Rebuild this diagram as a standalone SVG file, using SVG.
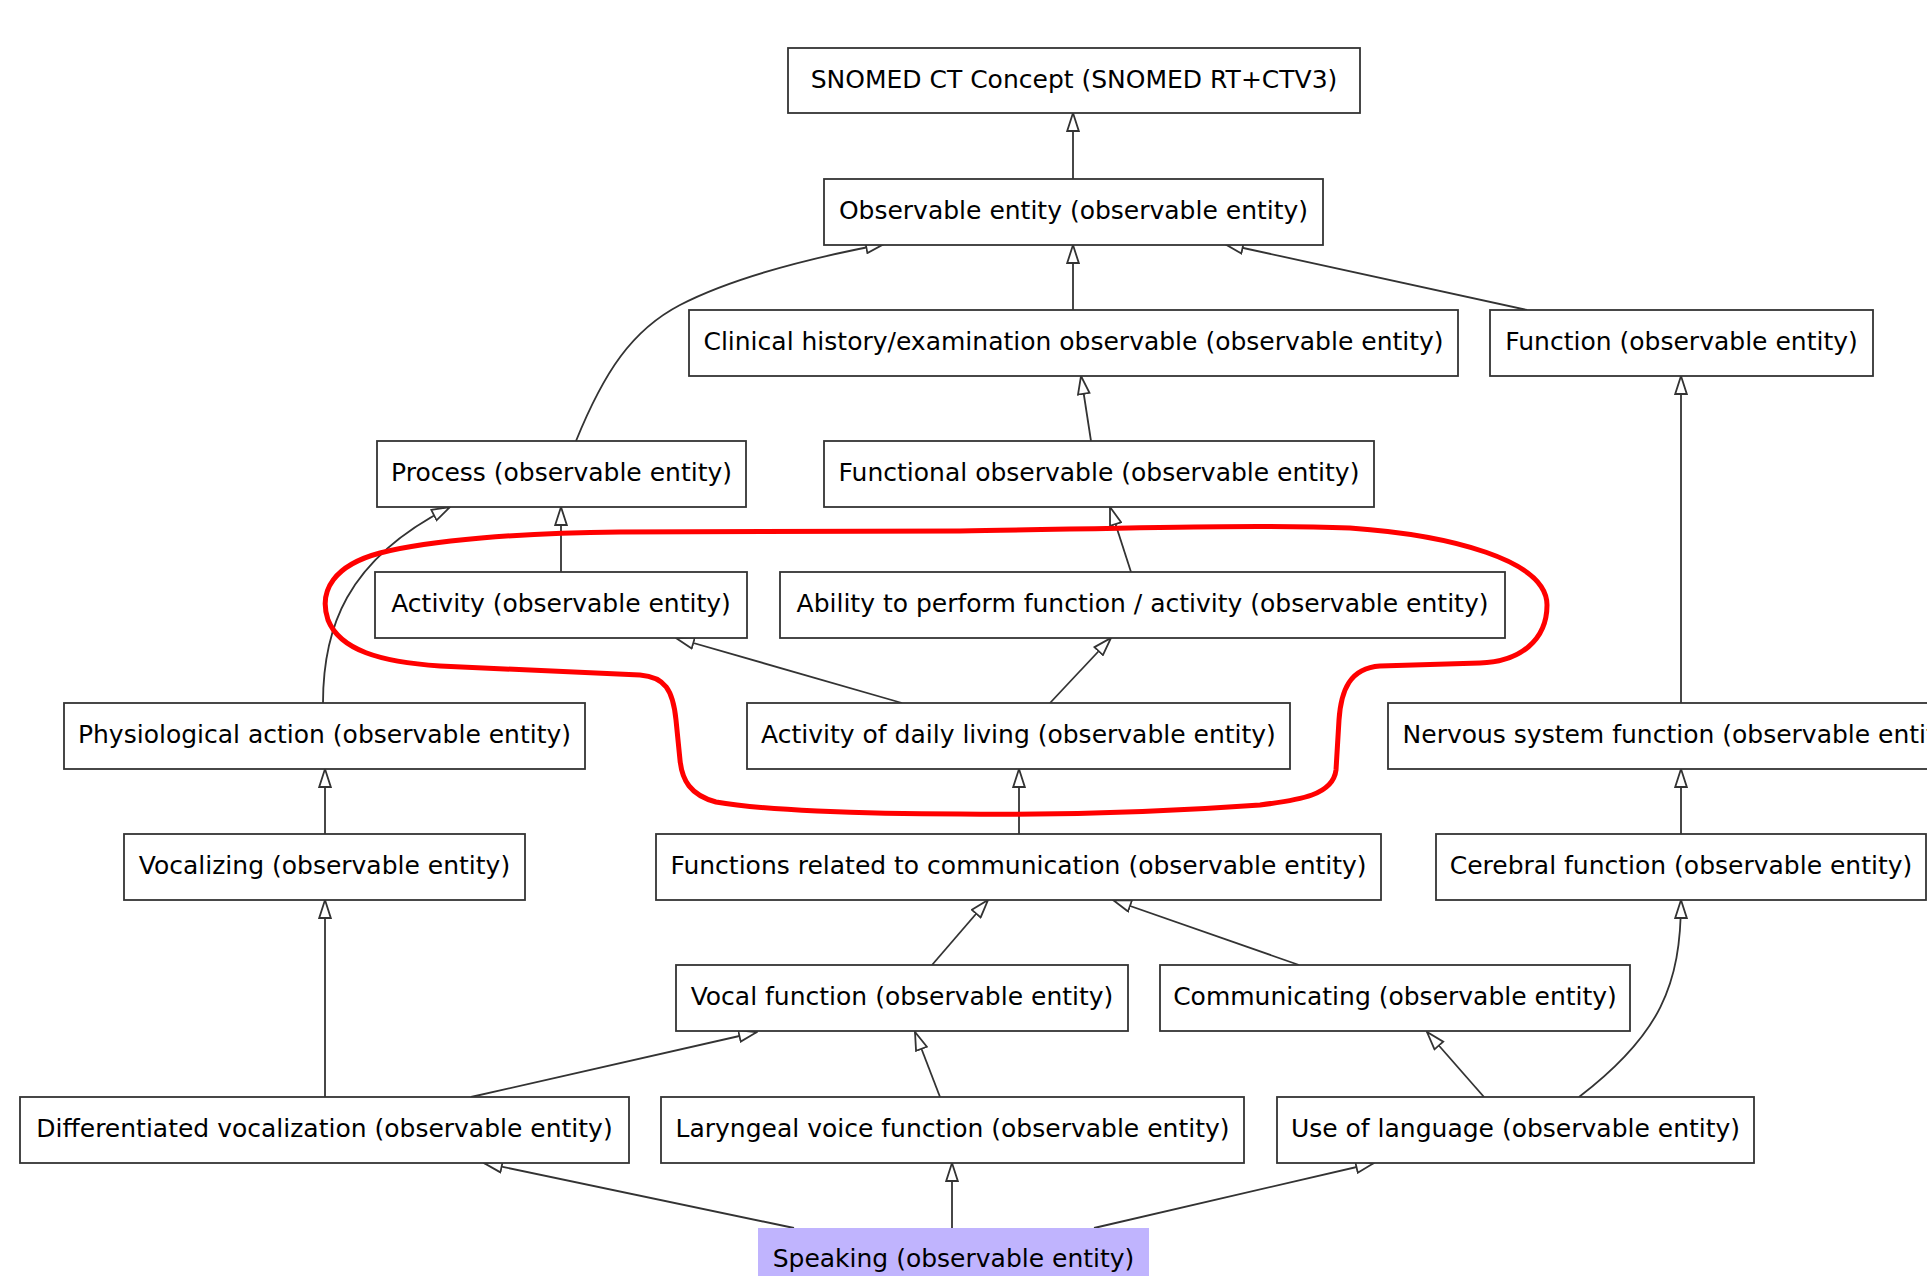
<svg xmlns="http://www.w3.org/2000/svg" width="1927" height="1276" viewBox="0 0 1927 1276">
<style>
.n rect{fill:#fff;stroke:#333;stroke-width:1.8}
.n text{font-family:"DejaVu Sans",sans-serif;font-size:25px;fill:#000;text-anchor:middle}
#speaking rect{fill:#c0b4fe;stroke:none}
.e path{fill:none;stroke:#333;stroke-width:1.8;marker-end:url(#a)}
.loop{fill:none;stroke:#f00;stroke-width:5;stroke-linejoin:round}
</style>
<defs>
<marker id="a" viewBox="0 0 20 14" refX="19" refY="7" markerWidth="20" markerHeight="14" orient="auto" markerUnits="userSpaceOnUse">
<path d="M1,1.2 L19,7 L1,12.8 Z" fill="#fff" stroke="#333" stroke-width="1.8"/>
</marker>
</defs>
<rect width="1927" height="1276" fill="#fff"/>
<g class="e" id="edges">
<path d="M1073,179 L1073,113"/>
<path d="M1073,310 L1073,245"/>
<path d="M1527,310 L1225,244"/>
<path d="M576,441 C604,372 632,330 680,305 C730,279 800,260 884,244"/>
<path d="M1091,441 L1081,376"/>
<path d="M561,572 L561,507"/>
<path d="M1131,572 L1110,507"/>
<path d="M323,703 C323,630 345,560 450,507"/>
<path d="M902,703 L676,638"/>
<path d="M1050,703 L1111,638"/>
<path d="M1019,834 L1019,769"/>
<path d="M1681,703 L1681,376"/>
<path d="M1681,834 L1681,769"/>
<path d="M325,834 L325,769"/>
<path d="M932,965 L988,900"/>
<path d="M1299,965 L1113,900"/>
<path d="M325,1097 L325,900"/>
<path d="M471,1097 L757,1032"/>
<path d="M940,1097 L915,1032"/>
<path d="M1484,1097 L1427,1032"/>
<path d="M1579,1097 C1660,1035 1681,985 1681,900"/>
<path d="M794,1228 L484,1163"/>
<path d="M952,1228 L952,1163"/>
<path d="M1094,1228 L1374,1163"/>
</g>
<g class="n" id="snomed"><rect x="788" y="48" width="572" height="65"/><text x="1074" y="88">SNOMED CT Concept (SNOMED RT+CTV3)</text></g>
<g class="n" id="observable"><rect x="824" y="179" width="499" height="66"/><text x="1073.5" y="219">Observable entity (observable entity)</text></g>
<g class="n" id="clinical"><rect x="689" y="310" width="769" height="66"/><text x="1073.5" y="350">Clinical history/examination observable (observable entity)</text></g>
<g class="n" id="function"><rect x="1490" y="310" width="383" height="66"/><text x="1681.5" y="350">Function (observable entity)</text></g>
<g class="n" id="process"><rect x="377" y="441" width="369" height="66"/><text x="561.5" y="481">Process (observable entity)</text></g>
<g class="n" id="functional"><rect x="824" y="441" width="550" height="66"/><text x="1099" y="481">Functional observable (observable entity)</text></g>
<g class="n" id="activity"><rect x="375" y="572" width="372" height="66"/><text x="561" y="612">Activity (observable entity)</text></g>
<g class="n" id="ability"><rect x="780" y="572" width="725" height="66"/><text x="1142.5" y="612">Ability to perform function / activity (observable entity)</text></g>
<g class="n" id="physiological"><rect x="64" y="703" width="521" height="66"/><text x="324.5" y="743">Physiological action (observable entity)</text></g>
<g class="n" id="adl"><rect x="747" y="703" width="543" height="66"/><text x="1018.5" y="743">Activity of daily living (observable entity)</text></g>
<g class="n" id="nervous"><rect x="1388" y="703" width="587" height="66"/><text x="1681.5" y="743">Nervous system function (observable entity)</text></g>
<g class="n" id="vocalizing"><rect x="124" y="834" width="401" height="66"/><text x="324.5" y="874">Vocalizing (observable entity)</text></g>
<g class="n" id="frc"><rect x="656" y="834" width="725" height="66"/><text x="1018.5" y="874">Functions related to communication (observable entity)</text></g>
<g class="n" id="cerebral"><rect x="1436" y="834" width="490" height="66"/><text x="1681" y="874">Cerebral function (observable entity)</text></g>
<g class="n" id="vocal"><rect x="676" y="965" width="452" height="66"/><text x="902" y="1005">Vocal function (observable entity)</text></g>
<g class="n" id="communicating"><rect x="1160" y="965" width="470" height="66"/><text x="1395" y="1005">Communicating (observable entity)</text></g>
<g class="n" id="differentiated"><rect x="20" y="1097" width="609" height="66"/><text x="324.5" y="1137">Differentiated vocalization (observable entity)</text></g>
<g class="n" id="laryngeal"><rect x="661" y="1097" width="583" height="66"/><text x="952.5" y="1137">Laryngeal voice function (observable entity)</text></g>
<g class="n" id="language"><rect x="1277" y="1097" width="477" height="66"/><text x="1515.5" y="1137">Use of language (observable entity)</text></g>
<g class="n" id="speaking"><rect x="758" y="1228" width="391" height="66"/><text x="953.5" y="1267">Speaking (observable entity)</text></g>
<path class="loop" d="M620,532 C760,532 860,531 960,531 C1100,529 1250,524 1350,528 C1450,535 1547,560 1547,605 C1547,640 1520,662 1480,663 L1380,666 C1350,668 1341,690 1339,720 L1336,770 C1333,795 1300,800 1260,805 C1150,813 1050,815 960,814 C860,814 760,810 716,802 C690,795 682,780 680,760 L676,720 C673,690 665,677 640,675 L440,666 C380,662 340,650 328,620 C318,590 335,565 380,553 C430,540 520,533 620,532 Z"/>
</svg>
